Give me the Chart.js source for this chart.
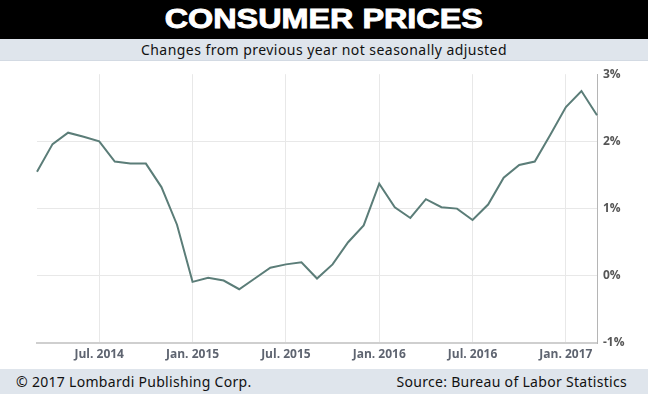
<!DOCTYPE html>
<html>
<head>
<meta charset="utf-8">
<script src="https://cdn.jsdelivr.net/npm/chart.js@4"></script>
<style>
  html, body { margin:0; padding:0; width:648px; height:394px; overflow:hidden; background:#fff; }
  .title { position:absolute; left:0; top:0; width:648px; height:39px; background:#000; color:#fff;
    font-family:'Liberation Sans', Arial, sans-serif; font-weight:bold; font-size:27px; line-height:39px;
    text-align:center; }
  .title span { display:inline-block; -webkit-text-stroke:0.9px #fff; transform-origin:center; }
  .sub { position:absolute; left:0; top:39px; width:648px; height:21px; background:#dfe5ec;
    border-bottom:1px solid #d3dae3; font-family:'Noto Sans', sans-serif; font-size:14px; line-height:21px;
    letter-spacing:0.45px; text-align:center; color:#111; }
  .chart { position:absolute; left:0; top:61px; width:648px; height:308px; }
  .foot { position:absolute; left:0; top:369px; width:648px; height:25px; background:#dfe5ec;
    font-family:'Noto Sans', sans-serif; font-size:14px; line-height:25px; letter-spacing:0.3px; color:#111; }
  .foot .l { position:absolute; left:16px; }
  .foot .r { position:absolute; right:21px; }
</style>
</head>
<body>
<div class="title"><span id="ttl">CONSUMER PRICES</span></div>
<div class="sub">Changes from previous year not seasonally adjusted</div>
<div class="chart"><canvas id="cpi" width="648" height="308"></canvas></div>
<div class="foot"><span class="l">© 2017 Lombardi Publishing Corp.</span><span class="r">Source: Bureau of Labor Statistics</span></div>
<script>
const months = [
  'Mar. 2014','Apr. 2014','May 2014','Jun. 2014','Jul. 2014','Aug. 2014','Sep. 2014','Oct. 2014','Nov. 2014','Dec. 2014',
  'Jan. 2015','Feb. 2015','Mar. 2015','Apr. 2015','May 2015','Jun. 2015','Jul. 2015','Aug. 2015','Sep. 2015','Oct. 2015','Nov. 2015','Dec. 2015',
  'Jan. 2016','Feb. 2016','Mar. 2016','Apr. 2016','May 2016','Jun. 2016','Jul. 2016','Aug. 2016','Sep. 2016','Oct. 2016','Nov. 2016','Dec. 2016',
  'Jan. 2017','Feb. 2017','Mar. 2017'
];
const cpiChange = [
  1.55, 1.96, 2.13, 2.07, 2.00, 1.70, 1.67, 1.67, 1.32, 0.76,
  -0.09, -0.03, -0.07, -0.20, -0.04, 0.12, 0.17, 0.20, -0.04, 0.17, 0.50, 0.75,
  1.37, 1.02, 0.86, 1.14, 1.02, 1.00, 0.83, 1.06, 1.46, 1.65, 1.70, 2.10,
  2.51, 2.75, 2.39
];
const xTickLabels = ['Jul. 2014','Jan. 2015','Jul. 2015','Jan. 2016','Jul. 2016','Jan. 2017'];
const yMin = -1, yMax = 3;

// stretch the heavy title to the width it has in the picture
const ttl = document.getElementById('ttl');
ttl.style.transform = 'scaleX(' + (318 / ttl.getBoundingClientRect().width).toFixed(3) + ')';

const fontFam = "'Open Sans', 'Liberation Sans', sans-serif";

new Chart(document.getElementById('cpi'), {
  type: 'line',
  data: {
    labels: months,
    datasets: [{ data: cpiChange, borderColor:'#5b7d78', borderWidth:2, pointRadius:0, tension:0, fill:false }]
  },
  options: {
    responsive:false, animation:false,
    layout: { padding: { left:37, top:8, right:0, bottom:0 } },
    plugins: { legend:{ display:false }, tooltip:{ enabled:false } },
    scales: {
      x: {
        grid: { color:'#e8e8e8', drawTicks:false },
        border: { color:'#cfcfcf', width:2 },
        ticks: {
          autoSkip:false, maxRotation:0, padding:4, color:'#5e6470',
          font: { family:fontFam, size:12, weight:'bold' },
          callback: (v, i) => xTickLabels.includes(months[i]) ? months[i] : null
        },
        afterFit: s => { s.height = 26; }
      },
      y: {
        position:'right', min:yMin, max:yMax,
        grid: { color: c => c.tick.value === yMax ? 'rgba(0,0,0,0)' : '#e8e8e8', drawTicks:false },
        border: { color:'#b5b5b5', width:1 },
        ticks: { stepSize:1, padding:6, color:'#555', font:{ family:fontFam, size:12, weight:'bold' }, callback: v => v + '%' },
        afterFit: s => { s.width = 51; }
      }
    }
  }
});
</script>
</body>
</html>
